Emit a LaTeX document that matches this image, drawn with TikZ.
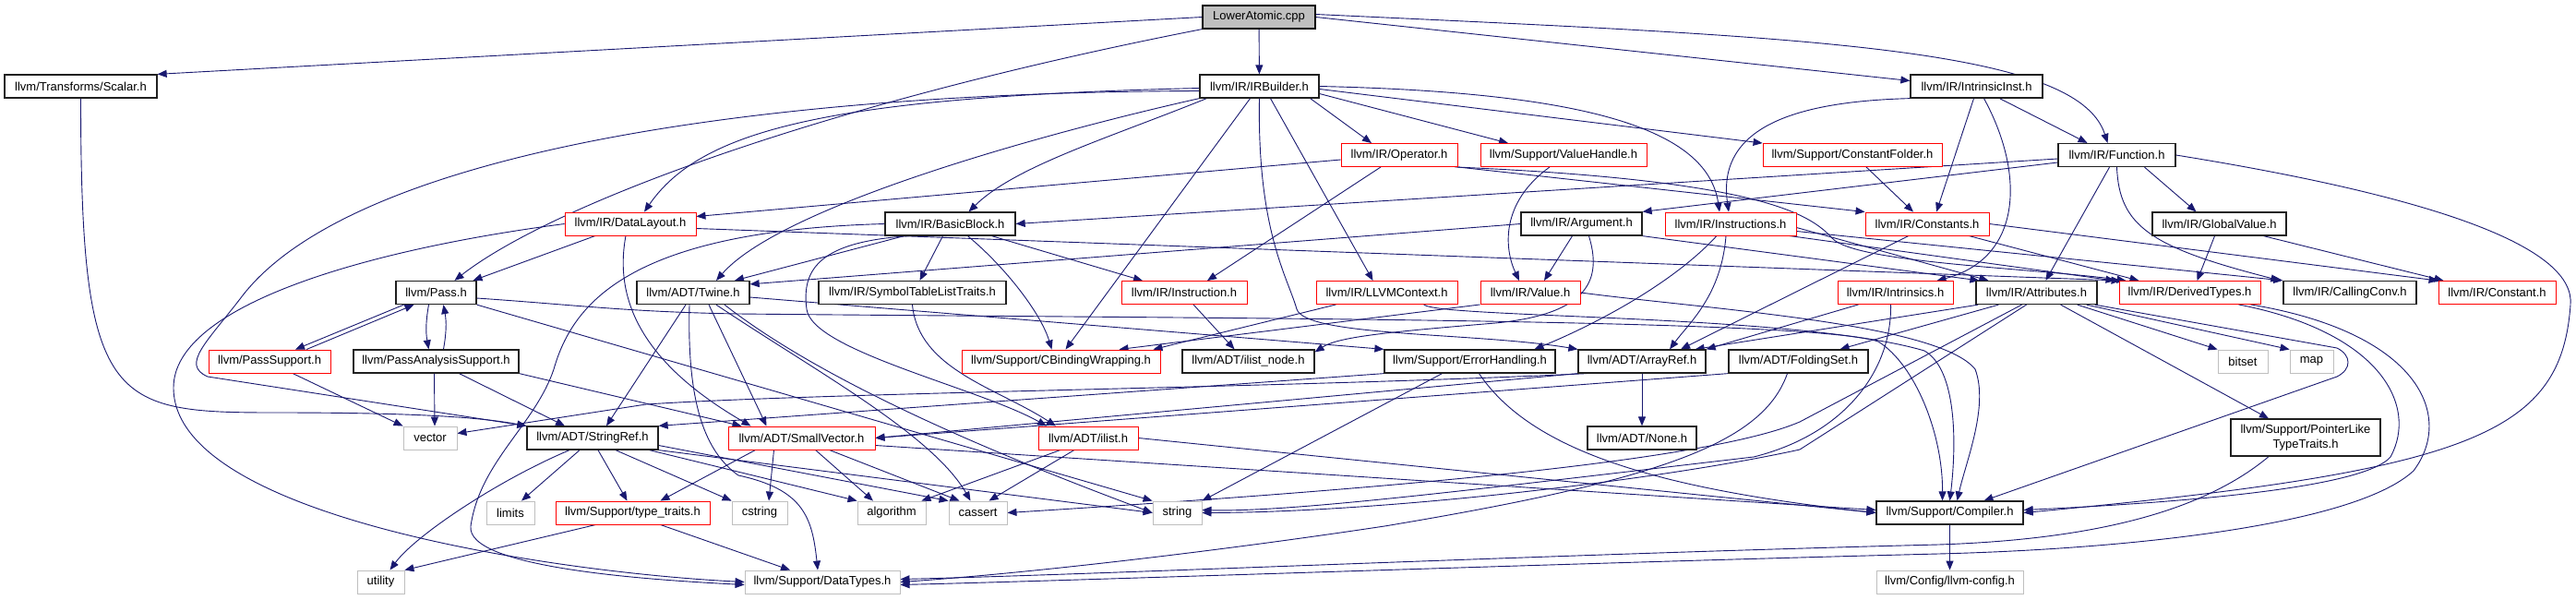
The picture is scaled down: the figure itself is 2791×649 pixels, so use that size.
\documentclass[tikz,border=0pt]{standalone}
\usepackage{fontspec}
\setmainfont{Liberation Sans}
\usetikzlibrary{calc,arrows.meta}
\pgfdeclarelayer{bg}
\pgfsetlayers{bg,main}
\definecolor{edgecol}{HTML}{191970}
\definecolor{lightg}{HTML}{BFBFBF}
\definecolor{curfill}{HTML}{BFBFBF}
\definecolor{boxblack}{HTML}{202020}
\begin{document}
\begin{tikzpicture}[x=1pt,y=1pt,
 box/.style={rectangle, draw, line width=0.9pt, fill=white, minimum height=25pt, inner sep=0pt, font=\fontsize{13}{15.6}\selectfont},
 blk/.style={box, draw=boxblack, line width=1.25pt},
 rbox/.style={box, draw=red},
 gbox/.style={box, draw=lightg},
 cur/.style={box, draw=black, line width=1.2pt, fill=curfill},
 dep/.style={draw=edgecol, line width=0.9pt, -{Triangle[length=10pt,width=8pt]}}]
\useasboundingbox (0,0) rectangle (2791,-649);
% nodes
\node[cur, minimum width=122pt] (LA) at (1364,-18.5) {LowerAtomic.cpp};
\node[blk, minimum width=165pt] (Scalar) at (87.5,-93.5) {llvm/Transforms/Scalar.h};
\node[blk, minimum width=129pt] (IRB) at (1364.5,-93.5) {llvm/IR/IRBuilder.h};
\node[blk, minimum width=143pt] (IIn) at (2141.5,-93.5) {llvm/IR/IntrinsicInst.h};
\node[rbox, minimum width=126pt] (Op) at (1516,-168) {llvm/IR/Operator.h};
\node[rbox, minimum width=180pt] (VH) at (1694,-168) {llvm/Support/ValueHandle.h};
\node[rbox, minimum width=194pt] (CF) at (2007,-168) {llvm/Support/ConstantFolder.h};
\node[blk, minimum width=127pt] (Fn) at (2293.5,-168) {llvm/IR/Function.h};
\node[rbox, minimum width=142pt] (DL) at (683,-242.5) {llvm/IR/DataLayout.h};
\node[blk, minimum width=141pt] (BB) at (1029.5,-242.5) {llvm/IR/BasicBlock.h};
\node[blk, minimum width=131pt] (Arg) at (1713.5,-242.5) {llvm/IR/Argument.h};
\node[rbox, minimum width=142pt] (Insts) at (1875,-242.5) {llvm/IR/Instructions.h};
\node[rbox, minimum width=134pt] (Cs) at (2088,-242.5) {llvm/IR/Constants.h};
\node[blk, minimum width=145pt] (GV) at (2404.5,-242.5) {llvm/IR/GlobalValue.h};
\node[blk, minimum width=87pt] (Pass) at (472.5,-317) {llvm/Pass.h};
\node[blk, minimum width=122pt] (Tw) at (751,-317) {llvm/ADT/Twine.h};
\node[blk, minimum width=203pt] (STL) at (988.5,-317) {llvm/IR/SymbolTableListTraits.h};
\node[rbox, minimum width=136pt] (Inst) at (1283,-317) {llvm/IR/Instruction.h};
\node[rbox, minimum width=153pt] (Ctx) at (1502.5,-317) {llvm/IR/LLVMContext.h};
\node[rbox, minimum width=108pt] (Val) at (1658,-317) {llvm/IR/Value.h};
\node[rbox, minimum width=125pt] (Intr) at (2053.5,-317) {llvm/IR/Intrinsics.h};
\node[blk, minimum width=131pt] (Attr) at (2206.5,-317) {llvm/IR/Attributes.h};
\node[rbox, minimum width=153pt] (DT) at (2372.5,-317) {llvm/IR/DerivedTypes.h};
\node[blk, minimum width=144pt] (CC) at (2546,-317) {llvm/IR/CallingConv.h};
\node[rbox, minimum width=127pt] (C) at (2705.5,-317) {llvm/IR/Constant.h};
\node[rbox, minimum width=132pt] (PS) at (292,-391.5) {llvm/PassSupport.h};
\node[blk, minimum width=179pt] (PAS) at (472.5,-391.5) {llvm/PassAnalysisSupport.h};
\node[rbox, minimum width=215pt] (CBW) at (1149.5,-391.5) {llvm/Support/CBindingWrapping.h};
\node[blk, minimum width=143pt] (IN) at (1352.5,-391.5) {llvm/ADT/ilist\_node.h};
\node[blk, minimum width=185pt] (EH) at (1592.5,-391.5) {llvm/Support/ErrorHandling.h};
\node[blk, minimum width=138pt] (AR) at (1779,-391.5) {llvm/ADT/ArrayRef.h};
\node[blk, minimum width=151pt] (FS) at (1948.5,-391.5) {llvm/ADT/FoldingSet.h};
\node[gbox, minimum width=54pt] (bitset) at (2430,-391.5) {bitset};
\node[gbox, minimum width=47pt] (map) at (2504.5,-391.5) {map};
\node[gbox, minimum width=58pt] (vector) at (466,-474.5) {vector};
\node[blk, minimum width=142pt] (SR) at (642,-474.5) {llvm/ADT/StringRef.h};
\node[rbox, minimum width=159pt] (SV) at (868.5,-474.5) {llvm/ADT/SmallVector.h};
\node[rbox, minimum width=108pt] (il) at (1179,-474.5) {llvm/ADT/ilist.h};
\node[blk, minimum width=118pt] (None) at (1779,-474.5) {llvm/ADT/None.h};
\node[blk, minimum width=162pt, minimum height=40pt, align=center] (PLT) at (2498,-474) {llvm/Support/PointerLike\\TypeTraits.h};
\node[gbox, minimum width=52pt] (limits) at (553,-555.5) {limits};
\node[rbox, minimum width=167pt] (TT) at (685.5,-555.5) {llvm/Support/type\_traits.h};
\node[gbox, minimum width=60pt] (cstring) at (823,-555.5) {cstring};
\node[gbox, minimum width=74pt] (algorithm) at (966,-555.5) {algorithm};
\node[gbox, minimum width=63pt] (cassert) at (1059.5,-555.5) {cassert};
\node[gbox, minimum width=53pt] (string) at (1275.5,-555.5) {string};
\node[blk, minimum width=159pt] (Comp) at (2112.5,-555.5) {llvm/Support/Compiler.h};
\node[gbox, minimum width=51pt] (utility) at (412.5,-630.5) {utility};
\node[gbox, minimum width=168pt] (DTy) at (891,-630.5) {llvm/Support/DataTypes.h};
\node[gbox, minimum width=159pt] (cfg) at (2112.5,-630.5) {llvm/Config/llvm-config.h};
\begin{pgfonlayer}{bg}
\fill[white] (0,0) rectangle (2791,-649);
% LowerAtomic
\draw[dep] (LA.west) -- (Scalar.north east);
\draw[dep] (LA.south west) .. controls (900,-110) and (600,-220) .. ($(Pass.north)+(20,0)$);
\draw[dep] (LA) -- (IRB);
\draw[dep] (LA.east) -- ($(IIn.west)+(0,6)$);
\draw[dep] ($(LA.east)+(0,3)$) .. controls (1950,-40) and (2250,-50) .. ($(Fn.north)+(-10,0)$);
% Scalar
\draw[dep] (Scalar.south) .. controls (87.5,-440) and (120,-447) .. (300,-447) .. controls (450,-447) and (520,-452) .. (SR.north west);
% IRBuilder
\draw[dep] ($(IRB.west)+(0,-2)$) .. controls (900,-105) and (760,-140) .. ($(DL.north)+(15,0)$);
\draw[dep] ($(IRB.west)+(0,-5)$) .. controls (800,-100) and (380,-170) .. (263,-320) .. controls (225,-370) and (195,-395) .. (225,-408) -- (SR.north west);
\draw[dep] (IRB.south west) .. controls (1150,-140) and (850,-220) .. ($(Tw.north)+(25,0)$);
\draw[dep] ($(IRB.south west)+(8,0)$) .. controls (1200,-150) and (1100,-180) .. ($(BB.north)+(20,0)$);
\draw[dep] ($(IRB.south)+(-10,0)$) -- ($(CBW.north)+(5,0)$);
\draw[dep] ($(IRB.south)+(12,0)$) -- ($(Ctx.north)+(-15,0)$);
\draw[dep] (IRB.south) .. controls (1362,-250) and (1395,-300) .. (1405,-335) .. controls (1415,-365) and (1600,-360) .. (AR.north west);
\draw[dep] ($(IRB.south east)+(-10,0)$) -- ($(Op.north)+(-30,0)$);
\draw[dep] ($(IRB.east)+(0,-8)$) -- ($(VH.north)+(-60,0)$);
\draw[dep] ($(IRB.east)+(0,-3)$) -- (CF.north west);
\draw[dep] (IRB.east) .. controls (1720,-100) and (1850,-140) .. ($(Insts.north)+(-12,0)$);
% IntrinsicInst
\draw[dep] ($(IIn.south)+(25,0)$) -- ($(Fn.north)+(-32,0)$);
\draw[dep] (IIn.south west) .. controls (1940,-110) and (1860,-140) .. ($(Insts.north)+(-2,0)$);
\draw[dep] ($(IIn.south)+(-3,0)$) -- ($(Cs.north)+(10,0)$);
\draw[dep] ($(IIn.south)+(8,0)$) .. controls (2195,-190) and (2190,-280) .. ($(Intr.north)+(45,0)$);
% Function
\draw[dep] ($(Fn.south)+(30,0)$) -- ($(GV.north)+(-25,0)$);
\draw[dep] ($(Fn.south)+(-8,0)$) -- ($(Attr.north)+(10,0)$);
\draw[dep] (Fn.south) .. controls (2296,-245) and (2330,-268) .. ($(CC.north west)+(-3,0)$);
\draw[dep] (Fn.east) .. controls (2650,-215) and (2790,-270) .. (2785,-330) .. controls (2775,-470) and (2680,-510) .. (Comp.east);
\draw[dep] ($(Fn.west)+(0,-8)$) -- (Arg.north east);
\draw[dep] ($(Fn.west)+(0,-4)$) -- (BB.east);
% Operator
\draw[dep] ($(Op.west)+(0,-5)$) -- ($(DL.east)+(0,8)$);
\draw[dep] ($(Op.south)+(-20,0)$) -- ($(Inst.north)+(25,0)$);
\draw[dep] (Op.south east) -- (Cs.north west);
\draw[dep] ($(Op.south east)+(-3,0)$) .. controls (1900,-195) and (1960,-230) .. (1985,-258) .. controls (2010,-285) and (2200,-290) .. ($(DT.north west)+(8,0)$);
% ValueHandle, ConstantFolder
\draw[dep] ($(VH.south)+(-15,0)$) .. controls (1625,-220) and (1630,-270) .. ($(Val.north)+(-12,0)$);
\draw[dep] ($(CF.south)+(15,0)$) -- ($(Cs.north)+(-15,0)$);
% DataLayout
\draw[dep] ($(DL.south)+(-38,0)$) -- ($(Pass.north)+(40,0)$);
\draw[dep] ($(DL.south)+(-5,0)$) .. controls (666,-320) and (690,-390) .. ($(SV.north)+(-55,0)$);
\draw[dep] ($(DL.east)+(0,-5)$) -- ($(DT.north west)+(2,0)$);
\draw[dep] (DL.west) .. controls (400,-270) and (188,-330) .. (188,-420) .. controls (188,-560) and (600,-620) .. (DTy.west);
% BasicBlock
\draw[dep] ($(BB.south)+(-50,0)$) -- ($(Tw.north)+(45,0)$);
\draw[dep] ($(BB.south)+(-8,0)$) -- ($(STL.north)+(8,0)$);
\draw[dep] ($(BB.south)+(45,0)$) -- ($(Inst.north)+(-45,0)$);
\draw[dep] ($(BB.south)+(19,0)$) .. controls (1090,-290) and (1128,-340) .. ($(CBW.north)+(-10,0)$);
\draw[dep] ($(BB.south)+(-45,0)$) .. controls (890,-262) and (868,-290) .. (874,-335) .. controls (880,-380) and (1060,-420) .. ($(il.north)+(-45,0)$);
\draw[dep] (BB.west) .. controls (680,-250) and (620,-330) .. (600,-400) .. controls (580,-460) and (520,-500) .. (510,-570) .. controls (505,-615) and (700,-628) .. ($(DTy.west)+(0,-3)$);
% Argument
\draw[dep] (Arg.west) -- ($(Tw.north east)+(0,-4)$);
\draw[dep] ($(Arg.south)+(-10,0)$) -- ($(Val.north)+(15,0)$);
\draw[dep] (Arg.south east) -- ($(Attr.north west)+(4,0)$);
\draw[dep] ($(Arg.south)+(8,0)$) .. controls (1735,-300) and (1725,-340) .. (1620,-350) .. controls (1500,-360) and (1450,-365) .. ($(IN.north east)+(0,-3)$);
% Instructions
\draw[dep] ($(Insts.south)+(-5,0)$) .. controls (1865,-320) and (1830,-350) .. ($(AR.north)+(30,0)$);
\draw[dep] ($(Insts.south)+(-15,0)$) .. controls (1810,-310) and (1720,-355) .. ($(EH.north)+(70,0)$);
\draw[dep] ($(Insts.east)+(0,-4)$) -- ($(Attr.north west)+(14,0)$);
\draw[dep] ($(Insts.south east)+(-8,0)$) -- ($(DT.north west)+(-4,0)$);
\draw[dep] ($(Insts.east)+(0,-8)$) -- (CC.north west);
% Constants
\draw[dep] ($(Cs.south)+(45,0)$) -- ($(DT.north)+(-55,0)$);
\draw[dep] (Cs.east) -- (C.north west);
\draw[dep] ($(Cs.south)+(-20,0)$) -- ($(AR.north)+(42,0)$);
% GlobalValue
\draw[dep] ($(GV.south)+(-5,0)$) -- ($(DT.north)+(8,0)$);
\draw[dep] ($(GV.south)+(48,0)$) -- ($(C.north west)+(6,0)$);
% Pass
\draw[dep] ($(Pass.south)+(-35,0)$) -- ($(PS.north)+(28,0)$);
\draw[dep] ($(PS.north)+(40,0)$) -- ($(Pass.south)+(-24,0)$);
\draw[dep] ($(Pass.south)+(-8,0)$) to[bend right=10] ($(PAS.north)+(-8,0)$);
\draw[dep] ($(PAS.north)+(8,0)$) to[bend right=10] ($(Pass.south)+(8,0)$);
\draw[dep] (Pass.south east) -- (string.north west);
\draw[dep] ($(Pass.east)+(0,-6)$) .. controls (620,-330) and (680,-338) .. (800,-340) .. controls (1300,-345) and (1960,-345) .. (2035,-370) .. controls (2075,-395) and (2105,-470) .. ($(Comp.north)+(-8,0)$);
% Twine
\draw[dep] ($(Tw.south)+(-8,0)$) -- ($(SR.north)+(15,0)$);
\draw[dep] ($(Tw.south)+(-4,0)$) .. controls (744,-440) and (765,-490) .. (800,-515) .. controls (870,-530) and (880,-560) .. ($(DTy.north)+(-5,0)$);
\draw[dep] ($(Tw.south)+(17,0)$) -- ($(SV.north)+(-38,0)$);
\draw[dep] ($(Tw.south)+(25,0)$) .. controls (880,-400) and (1010,-470) .. ($(cassert.north)+(-8,0)$);
\draw[dep] ($(Tw.south)+(34,0)$) .. controls (900,-420) and (1100,-500) .. (string.west);
\draw[dep] ($(Tw.east)+(0,-5)$) -- (EH.north west);
% SymbolTableListTraits, Instruction
\draw[dep] (STL.south) .. controls (995,-400) and (1080,-420) .. ($(il.north)+(-35,0)$);
\draw[dep] ($(Inst.south)+(10,0)$) -- ($(IN.north)+(-15,0)$);
% LLVMContext, Value
\draw[dep] ($(Ctx.south)+(-55,0)$) -- ($(CBW.north east)+(-8,0)$);
\draw[dep] ($(Ctx.south)+(40,0)$) .. controls (1560,-345) and (1950,-340) .. (2085,-380) .. controls (2120,-400) and (2120,-480) .. (Comp.north);
\draw[dep] (Val.south west) -- ($(CBW.north)+(63,0)$);
\draw[dep] (Val.east) .. controls (1850,-335) and (2100,-350) .. (2140,-400) .. controls (2155,-440) and (2130,-500) .. ($(Comp.north)+(8,0)$);
% Intrinsics
\draw[dep] ($(Intr.south)+(-40,0)$) -- (AR.north east);
\draw[dep] ($(Intr.south)+(-5,0)$) .. controls (2050,-400) and (2000,-470) .. (1900,-495) .. controls (1600,-530) and (1400,-555) .. ($(string.east)+(0,3)$);
% Attributes
\draw[dep] ($(Attr.south west)+(3,0)$) -- ($(AR.north east)+(-12,0)$);
\draw[dep] ($(Attr.south west)+(25,0)$) -- ($(FS.north)+(45,0)$);
\draw[dep] ($(Attr.south)+(-16,0)$) -- (1950,-457) .. controls (1850,-500) and (1500,-530) .. (cassert.east);
\draw[dep] ($(Attr.south)+(-11,0)$) -- (1950,-487) .. controls (1800,-520) and (1500,-555) .. (string.east);
\draw[dep] ($(Attr.south east)+(-40,0)$) -- ($(PLT.north)+(-40,0)$);
\draw[dep] ($(Attr.south east)+(-22,0)$) -- (bitset.north west);
\draw[dep] ($(Attr.south east)+(-12,0)$) -- (map.north west);
\draw[dep] ($(Attr.south east)+(-3,0)$) -- (2532,-377) .. controls (2548,-385) and (2548,-400) .. (2532,-408) -- ($(Comp.north)+(37,0)$);
% DerivedTypes
\draw[dep] ($(DT.south)+(53,0)$) .. controls (2580,-360) and (2620,-440) .. (2590,-495) .. controls (2560,-530) and (2350,-545) .. ($(Comp.east)+(0,3)$);
\draw[dep] ($(DT.south)+(66,0)$) .. controls (2620,-360) and (2660,-450) .. (2615,-510) .. controls (2550,-570) and (2300,-595) .. (2100,-600) .. controls (1700,-610) and (1200,-628) .. ($(DTy.east)+(0,-3)$);
% PointerLike
\draw[dep] ($(PLT.south)+(-40,0)$) .. controls (2380,-560) and (2250,-585) .. (2100,-590) .. controls (1700,-600) and (1200,-622) .. ($(DTy.east)+(0,3)$);
% FoldingSet
\draw[dep] (FS.south west) -- (SV.east);
\draw[dep] ($(FS.south)+(-12,0)$) .. controls (1910,-480) and (1800,-520) .. (1500,-570) .. controls (1300,-600) and (1100,-622) .. (DTy.east);
% ErrorHandling
\draw[dep] (EH.south west) -- (SR.north east);
\draw[dep] ($(EH.south)+(-30,0)$) -- (string.north east);
\draw[dep] ($(EH.south)+(10,0)$) .. controls (1660,-490) and (1800,-530) .. (Comp.west);
% ArrayRef
\draw[dep] (AR) -- (None);
\draw[dep] (AR.south west) -- (SV.east);
\draw[dep] ($(AR.south west)+(10,0)$) .. controls (1400,-420) and (900,-425) .. (700,-438) -- ($(vector.east)+(0,5)$);
% PassSupport, PassAnalysisSupport
\draw[dep] ($(PS.south)+(25,0)$) -- (vector.north west);
\draw[dep] ($(PAS.south)+(-2,0)$) -- ($(vector.north)+(5,0)$);
\draw[dep] ($(PAS.south)+(25,0)$) -- ($(SR.north)+(-30,0)$);
\draw[dep] (PAS.south east) -- ($(SV.north)+(-65,0)$);
% StringRef
\draw[dep] ($(SR.south)+(-25,0)$) .. controls (540,-520) and (450,-580) .. ($(utility.north)+(10,0)$);
\draw[dep] ($(SR.south)+(-14,0)$) -- ($(limits.north)+(12,0)$);
\draw[dep] ($(SR.south)+(6,0)$) -- ($(TT.north)+(-6,0)$);
\draw[dep] ($(SR.south)+(25,0)$) -- (cstring.north west);
\draw[dep] ($(SR.south east)+(-10,0)$) -- (algorithm.north west);
\draw[dep] ($(SR.east)+(0,-8)$) -- (cassert.north west);
\draw[dep] (SR.south east) -- (string.west);
% SmallVector
\draw[dep] ($(SV.south)+(-50,0)$) -- ($(TT.north)+(30,0)$);
\draw[dep] ($(SV.south)+(-30,0)$) -- ($(cstring.north)+(10,0)$);
\draw[dep] ($(SV.south)+(15,0)$) -- ($(algorithm.north)+(-20,0)$);
\draw[dep] ($(SV.south)+(30,0)$) -- ($(cassert.north)+(-20,0)$);
\draw[dep] ($(SV.east)+(0,-8)$) -- ($(Comp.west)+(0,3)$);
% ilist
\draw[dep] ($(il.south)+(-30,0)$) -- ($(algorithm.north east)+(-5,0)$);
\draw[dep] ($(il.south)+(-15,0)$) -- ($(cassert.north)+(12,0)$);
\draw[dep] (il.east) -- (Comp.west);
% type_traits
\draw[dep] ($(TT.south)+(30,0)$) -- ($(DTy.north)+(-35,0)$);
\draw[dep] ($(TT.south)+(-40,0)$) -- (utility.north east);
% Compiler
\draw[dep] (Comp) -- (cfg);
\end{pgfonlayer}
\end{tikzpicture}
\end{document}
